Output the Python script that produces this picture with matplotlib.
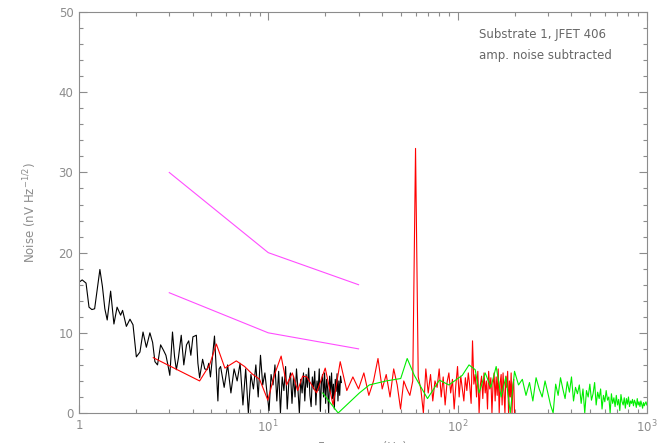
import numpy as np
import matplotlib
matplotlib.use("Agg")
import matplotlib.pyplot as plt
from matplotlib.ticker import FixedLocator, FixedFormatter, MultipleLocator, LogLocator

# black spectrum, low-frequency part (Hz, nV/rtHz)
black_f_low = [1.00, 1.04, 1.09, 1.13, 1.17, 1.21, 1.25, 1.29, 1.33, 1.37, 1.41, 1.47,
               1.53, 1.59, 1.66, 1.70, 1.74, 1.78, 1.86, 1.93, 2.01, 2.10, 2.18, 2.27,
               2.37, 2.45, 2.52, 2.60, 2.70, 2.80, 2.88, 2.95, 3.02, 3.12, 3.20, 3.27,
               3.35, 3.47, 3.58, 3.70, 3.80, 3.90, 4.00, 4.17, 4.25, 4.34, 4.50, 4.62,
               4.75, 4.85, 4.95, 5.10, 5.20, 5.30, 5.42, 5.50]
black_v_low = [16.3, 16.6, 16.2, 13.2, 12.9, 13.0, 15.5, 17.9, 15.8, 13.0, 11.6, 15.2,
               11.1, 13.2, 12.2, 12.8, 11.8, 10.8, 11.7, 11.0, 7.0, 7.6, 10.1, 8.2,
               10.0, 8.8, 6.4, 6.0, 8.5, 7.8, 7.2, 6.0, 4.7, 10.1, 7.0, 5.4,
               6.8, 9.7, 6.0, 8.5, 9.0, 7.2, 9.5, 9.7, 6.2, 4.4, 6.7, 5.5,
               5.4, 6.2, 4.5, 7.5, 9.6, 6.0, 1.5, 5.5]
# black spectrum, dense part 5.6 - 24.35 Hz, 0.25 Hz bins
black_f_hi = np.arange(5.6, 24.5, 0.25)
black_v_hi = [5.8, 3.2, 6.0, 2.5, 5.5, 4.0, 6.2, 1.0,
              5.5, 0.0, 4.8, 3.0, 6.0, 2.0, 7.2, 3.5,
              5.0, 2.5, 0.3, 4.8, 3.5, 6.0, 1.5, 5.2,
              0.0, 4.5, 2.8, 5.8, 0.5, 3.9, 5.0, 1.2,
              4.6, 2.0, 5.5, 3.0, 0.0, 4.2, 2.5, 5.0,
              1.5, 4.8, 3.2, 5.6, 2.2, 0.8, 4.5, 3.0,
              5.2, 1.0, 4.0, 2.8, 5.5, 0.2, 3.8, 4.8,
              2.0, 5.0, 1.2, 4.2, 3.0, 0.0, 4.6, 2.5,
              5.0, 1.8, 3.6, 0.5, 4.2, 2.7, 4.9, 1.5,
              4.0, 2.2, 4.6, 3.8]

# red spectrum
red_f_low = [2.47, 4.34, 4.9, 5.32, 5.9, 6.78, 7.5, 8.2, 9.0, 9.95, 10.8, 11.7,
             12.5, 13.4, 14.3, 15.2]
red_v_low = [6.9, 4.0, 6.0, 8.6, 5.6, 6.5, 5.8, 4.9, 4.2, 1.6, 4.8, 7.1,
             3.5, 5.0, 2.8, 4.6]
red_f_hi = np.arange(16, 201, 2)
red_v_hi = [4.5, 2.5, 5.6, 1.0, 6.4, 2.8, 4.5, 3.0,
            5.0, 2.2, 4.0, 6.8, 3.0, 4.8, 2.0, 5.5,
            3.5, 0.5, 4.0, 3.0, 2.2, 4.0, 33.0, 4.5,
            3.0, 0.0, 5.5, 2.5, 4.8, 1.5, 4.0, 3.2,
            5.5, 2.0, 4.5, 1.0, 3.8, 5.0, 2.5, 4.2,
            0.5, 3.5, 5.8, 2.0, 4.6, 3.0, 1.5, 4.4,
            2.8, 5.0, 3.4, 1.2, 9.0, 3.6, 4.8, 2.0,
            5.2, 0.0, 3.5, 4.6, 1.8, 5.0, 2.5, 4.0,
            0.5, 5.2, 3.0, 4.4, 0.0, 3.6, 5.0, 1.5,
            4.5, 2.2, 5.5, 0.0, 3.8, 4.8, 1.0, 5.0,
            2.5, 0.0, 4.6, 3.2, 5.2, 0.0, 4.0, 2.0,
            5.0, 0.0, 3.5, 4.2, 0.0]

# green spectrum
green_f_low = [19.4, 23.4, 30.3, 34.2, 42, 50.1, 54.2, 59.1, 69.4, 80.2, 90, 106, 115, 124]
green_v_low = [2.5, 0.0, 2.5, 3.5, 4.0, 4.3, 6.8, 4.7, 1.8, 4.1, 3.5, 4.7, 6.0, 5.4]
green_f_hi = np.arange(130, 1001, 10)
green_v_hi = [2.5, 5.0, 3.2, 5.8, 2.0, 4.5, 0.0, 5.2,
              3.5, 4.2, 2.2, 3.8, 1.5, 4.4, 3.0, 2.0,
              4.0, 2.5, 1.0, 0.0, 3.6, 2.2, 4.4, 3.0,
              1.8, 3.9, 2.6, 4.5, 1.5, 3.2, 2.4, 3.5,
              1.2, 3.0, 0.0, 2.8, 2.0, 3.6, 1.6, 2.4,
              3.8, 1.0, 2.6, 1.8, 3.0, 0.5, 2.2, 1.4,
              2.8, 1.6, 2.0, 0.0, 2.4, 1.2, 1.9, 0.8,
              2.2, 1.0, 1.7, 0.3, 2.3, 1.4, 1.0, 1.9,
              0.6, 1.8, 1.1, 2.0, 0.8, 1.5, 1.2, 1.7,
              0.9, 1.6, 1.3, 0.7, 1.8, 1.0, 1.4, 0.8,
              1.5, 1.1, 0.6, 1.3, 0.9, 1.2, 1.4, 1.0]

# magenta reference slopes
ref_f = [3, 10, 30]
ref_hi = [30, 20, 16]
ref_lo = [15, 10, 8]

gray = "#8c8c8c"
plt.rcParams["font.family"] = "DejaVu Sans"

fig = plt.figure(figsize=(6.58, 4.43), dpi=100)
ax = fig.add_axes([0.120, 0.0677, 0.863, 0.905])

lw = 0.8
ax.plot(list(black_f_low) + list(black_f_hi), black_v_low + black_v_hi, color="black", lw=lw)
ax.plot(list(red_f_low) + list(red_f_hi), red_v_low + red_v_hi, color="red", lw=lw)
ax.plot(green_f_low + list(green_f_hi), green_v_low + green_v_hi, color="#00ee00", lw=lw)
ax.plot(ref_f, ref_hi, color="#ff4dff", lw=lw)
ax.plot(ref_f, ref_lo, color="#ff4dff", lw=lw)

ax.set_xscale("log")
ax.set_xlim(1, 1000)
ax.set_ylim(0, 50)

ax.xaxis.set_major_locator(FixedLocator([1, 10, 100, 1000]))
ax.xaxis.set_major_formatter(FixedFormatter(["1", "$10^1$", "$10^2$", "$10^3$"]))
ax.xaxis.set_minor_locator(LogLocator(base=10, subs=np.arange(2, 10)))
ax.xaxis.set_minor_formatter(FixedFormatter([]))
ax.yaxis.set_major_locator(MultipleLocator(10))
ax.yaxis.set_minor_locator(MultipleLocator(2))

for s in ax.spines.values():
    s.set_color(gray)
    s.set_linewidth(0.8)
ax.tick_params(which="both", direction="in", top=True, right=True, color=gray,
               labelcolor=gray, labelsize=8.5, width=0.8)
ax.tick_params(which="major", length=5.8, pad=4)
ax.tick_params(which="minor", length=2.9)

ax.set_xlabel("Frequency (Hz)", color=gray, fontsize=8.5, labelpad=4)
ax.set_ylabel("Noise (nV Hz$^{-1/2}$)", color=gray, fontsize=8.5, labelpad=14)

ax.text(0.705, 0.935, "Substrate 1, JFET 406", transform=ax.transAxes, color="#666666", fontsize=8.5)
ax.text(0.705, 0.882, "amp. noise subtracted", transform=ax.transAxes, color="#666666", fontsize=8.5)

fig.savefig("out.png", dpi=100)
